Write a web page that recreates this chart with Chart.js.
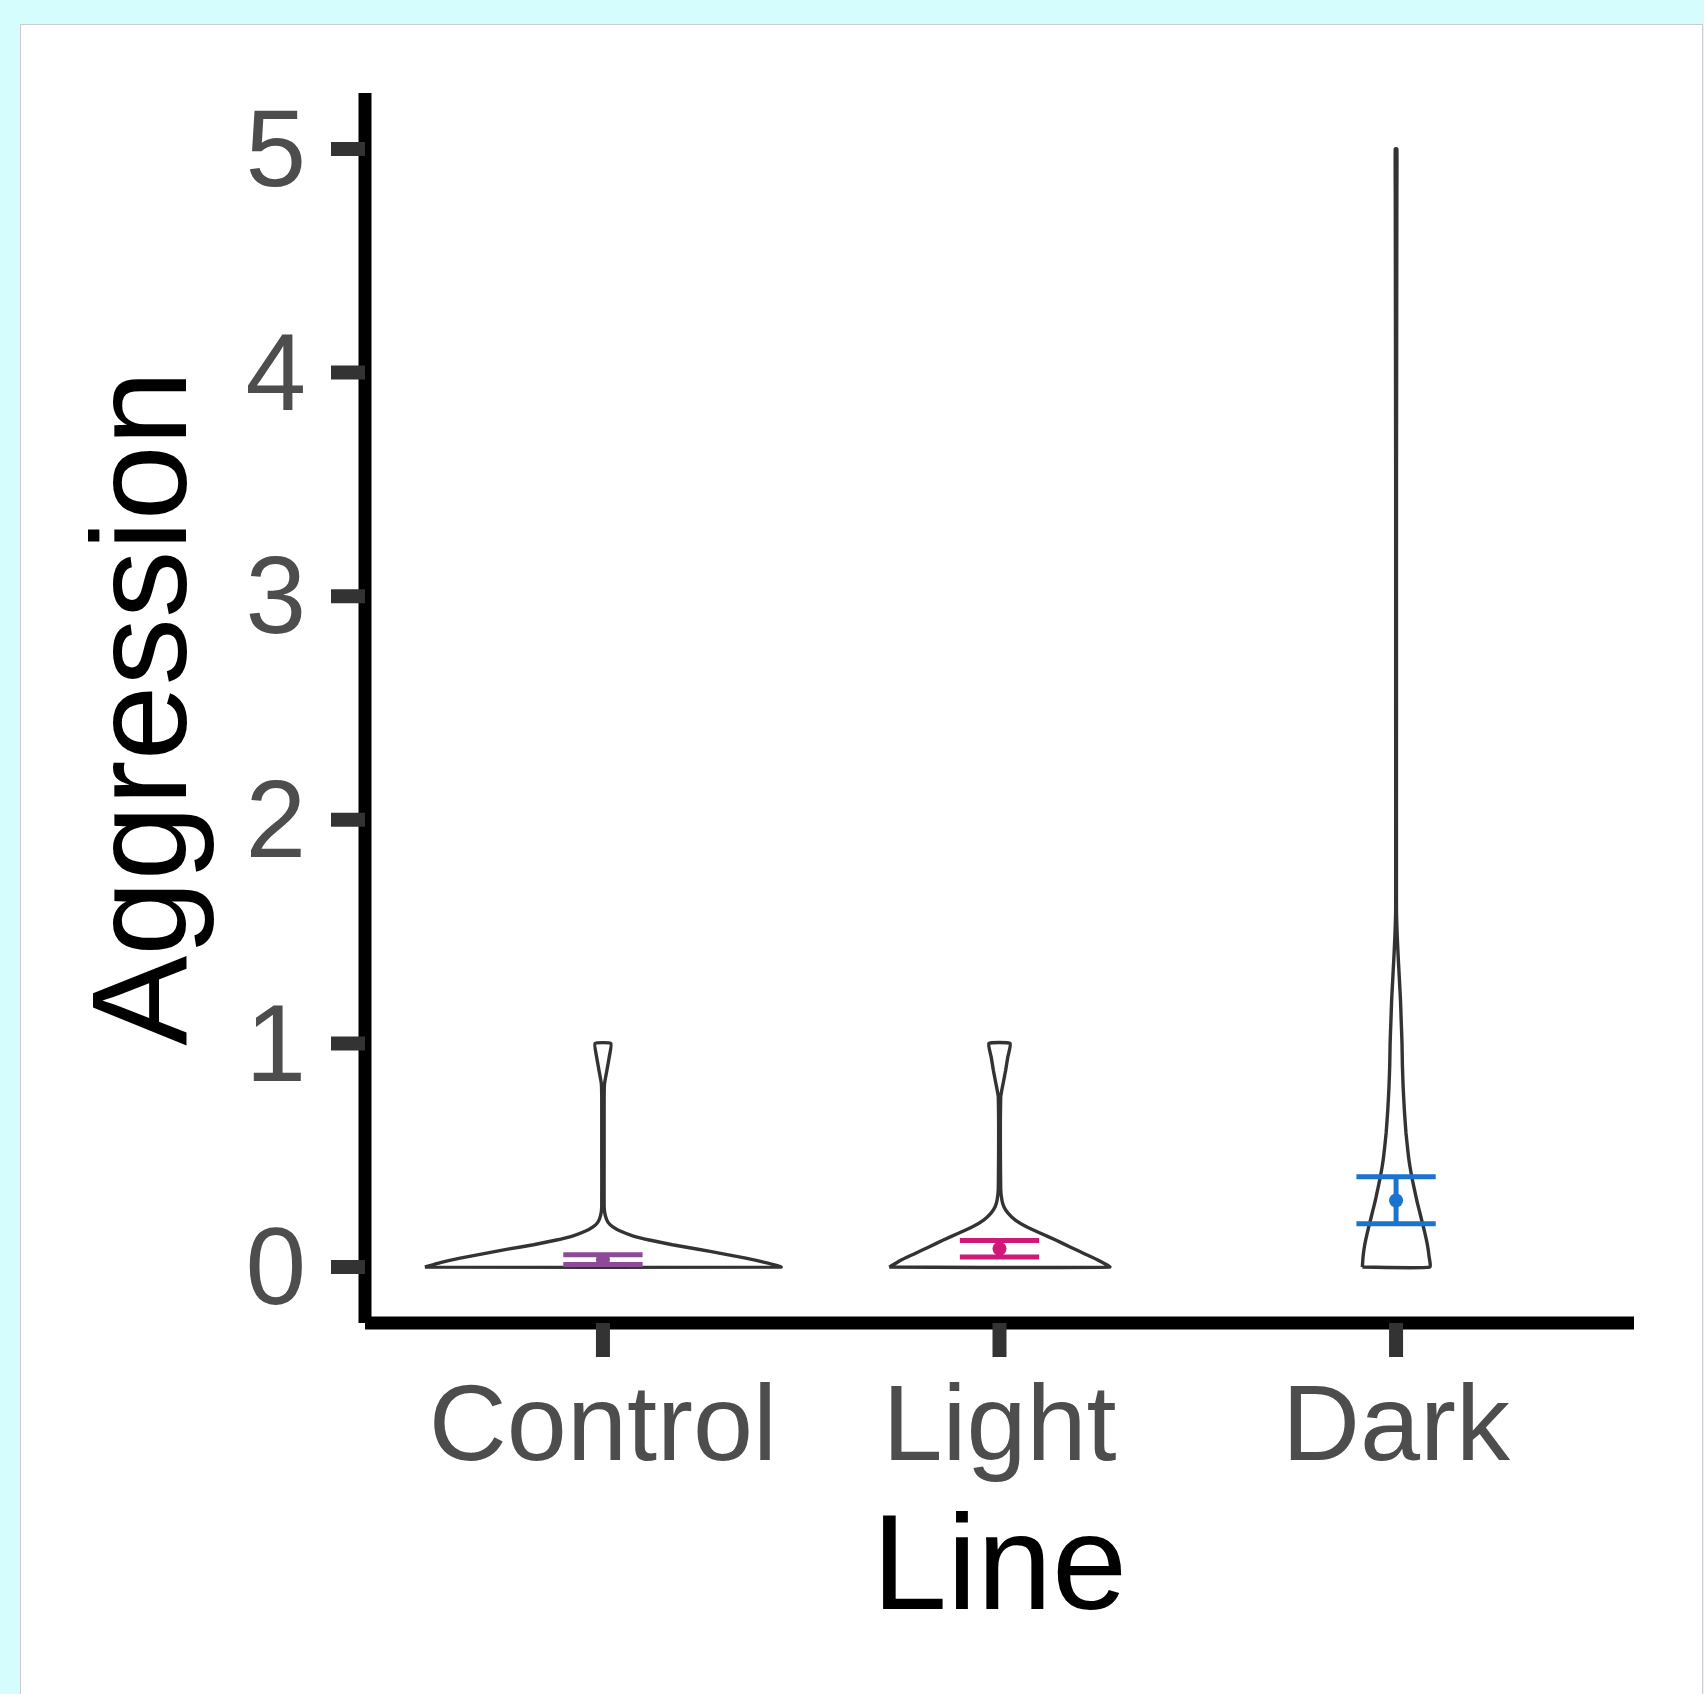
<!DOCTYPE html>
<html>
<head>
<meta charset="utf-8">
<script src="https://cdn.jsdelivr.net/npm/chart.js@4.4.1/dist/chart.umd.min.js"></script>
<style>
  html, body { margin: 0; padding: 0; overflow: hidden; }
  body { background: #d5fdfe; width: 1704px; height: 1694px; position: relative; }
  #panel { position: absolute; left: 20px; top: 24px; width: 1681px; height: 1700px;
           background: #fff; border: 1px solid #cccccc; }
  #chart { position: absolute; left: 0; top: 0; }
</style>
</head>
<body>
<div id="panel"></div>
<canvas id="chart" width="1704" height="1694"></canvas>
<script>
// groups and axis ticks
const categories = ['Control', 'Light', 'Dark'];
const xTicks = [1, 2, 3];
const yTicks = [0, 1, 2, 3, 4, 5];

// violin outlines: aggression level and half width (in category units)
const controlLevels = [0, 0.02, 0.04, 0.06, 0.08, 0.10, 0.12, 0.14, 0.16, 0.18, 0.20, 0.23, 0.27, 0.5, 0.75, 0.82, 0.88, 0.94, 1.0];
const controlHalfWidths = [0.449, 0.41, 0.36, 0.30, 0.24, 0.175, 0.12, 0.075, 0.045, 0.025, 0.013, 0.006, 0.003, 0.003, 0.003, 0.004, 0.01, 0.016, 0.02];

const lightLevels = [0, 0.03, 0.06, 0.09, 0.12, 0.15, 0.18, 0.21, 0.24, 0.27, 0.30, 0.35, 0.76, 0.82, 0.88, 0.94, 1.0];
const lightHalfWidths = [0.278, 0.25, 0.214, 0.178, 0.143, 0.105, 0.068, 0.040, 0.022, 0.011, 0.006, 0.003, 0.003, 0.009, 0.0155, 0.021, 0.027];

const darkLevels = [0, 0.05, 0.1, 0.15, 0.2, 0.25, 0.3, 0.35, 0.4, 0.45, 0.5, 0.6, 0.7, 0.8, 0.9, 1.0, 1.1, 1.2, 1.3, 1.4, 1.5, 1.6, 2.5, 3.5, 4.8, 5.0];
const darkHalfWidths = [0.085, 0.083, 0.079, 0.073, 0.066, 0.059, 0.052, 0.046, 0.040, 0.035, 0.031, 0.025, 0.021, 0.018, 0.016, 0.015, 0.013, 0.011, 0.008, 0.005, 0.0025, 0.001, 0.001, 0.001, 0.002, 0.002];

// mean and error bar limits per group
const means = [0.033, 0.082, 0.298];
const lowers = [0.012, 0.045, 0.194];
const uppers = [0.055, 0.119, 0.404];

const groupColors = ['#8e4a99', '#d0177a', '#1a73cf'];
const FONT = "'Liberation Sans', Arial, Helvetica, sans-serif";

function violinPoints(center, levels, halfWidths) {
    const pts = [];
    for (let i = 0; i < levels.length; i++) pts.push({ x: center - halfWidths[i], y: levels[i] });
    for (let i = levels.length - 1; i >= 0; i--) pts.push({ x: center + halfWidths[i], y: levels[i] });
    pts.push(pts[0]);
    return pts;
}

const violins = [
    [controlLevels, controlHalfWidths],
    [lightLevels, lightHalfWidths],
    [darkLevels, darkHalfWidths]
];

const datasets = [];
violins.forEach(function (v, i) {
    datasets.push({
        data: violinPoints(xTicks[i], v[0], v[1]),
        showLine: true,
        borderColor: '#333333',
        borderWidth: 3.4,
        borderJoinStyle: 'round',
        backgroundColor: 'transparent',
        pointRadius: 0,
        tension: 0.15,
        fill: false,
        order: 2
    });
});

const barHalf = 0.1;
categories.forEach(function (c, i) {
    const x = xTicks[i];
    const seg = function (pts) {
        return { data: pts, showLine: true, borderColor: groupColors[i], borderWidth: 5,
                 borderCapStyle: 'butt', pointRadius: 0, tension: 0, order: 1 };
    };
    datasets.push(seg([{ x: x - barHalf, y: lowers[i] }, { x: x + barHalf, y: lowers[i] }]));
    datasets.push(seg([{ x: x - barHalf, y: uppers[i] }, { x: x + barHalf, y: uppers[i] }]));
    datasets.push(seg([{ x: x, y: lowers[i] }, { x: x, y: uppers[i] }]));
    datasets.push({
        data: [{ x: x, y: means[i] }],
        showLine: false,
        pointRadius: 7,
        pointBorderWidth: 0,
        pointBackgroundColor: groupColors[i],
        order: 0
    });
});

// ggplot style axis lines and ticks
const axisPlugin = {
    id: 'ggAxes',
    afterDatasetsDraw(chart) {
        const ctx = chart.ctx;
        const a = chart.chartArea;
        const xs = chart.scales.x, ys = chart.scales.y;
        const line = function (x1, y1, x2, y2) {
            ctx.beginPath(); ctx.moveTo(x1, y1); ctx.lineTo(x2, y2); ctx.stroke();
        };
        ctx.save();
        ctx.lineCap = 'butt';
        ctx.strokeStyle = '#000000';
        ctx.lineWidth = 13;
        line(a.left, a.top, a.left, a.bottom);
        line(a.left, a.bottom, a.right, a.bottom);
        ctx.strokeStyle = '#333333';
        ctx.lineWidth = 14;
        yTicks.forEach(function (v) {
            const py = ys.getPixelForValue(v);
            line(a.left - 34, py, a.left, py);
        });
        xTicks.forEach(function (v) {
            const px = xs.getPixelForValue(v);
            line(px, a.bottom, px, a.bottom + 34);
        });
        ctx.restore();
    }
};

new Chart(document.getElementById('chart'), {
    type: 'scatter',
    data: { datasets: datasets },
    options: {
        responsive: false,
        animation: false,
        events: [],
        devicePixelRatio: 1,
        layout: { padding: { top: 93, right: 70, bottom: 0, left: 0 } },
        plugins: { legend: { display: false }, tooltip: { enabled: false } },
        scales: {
            x: {
                type: 'linear',
                min: 0.4,
                max: 3.6,
                bounds: 'data',
                afterBuildTicks: function (scale) { scale.ticks = xTicks.map(function (v) { return { value: v }; }); },
                afterFit: function (scale) {
                    scale.height = 371;
                    scale.paddingLeft = 0; scale.paddingRight = 0;
                },
                grid: { display: false, drawTicks: false },
                border: { display: false },
                ticks: {
                    autoSkip: false, maxRotation: 0, minRotation: 0,
                    padding: 53,
                    color: '#4d4d4d',
                    font: { family: FONT, size: 108, lineHeight: 1 },
                    callback: function (value, index) { return categories[index]; }
                },
                title: {
                    display: true, text: 'Line', color: '#000000',
                    font: { family: FONT, size: 135, lineHeight: 1 },
                    padding: { top: 0, bottom: 55 }
                }
            },
            y: {
                type: 'linear',
                min: -0.25,
                max: 5.25,
                bounds: 'data',
                afterBuildTicks: function (scale) { scale.ticks = yTicks.map(function (v) { return { value: v }; }); },
                afterFit: function (scale) {
                    scale.width = 365;
                    scale.paddingTop = 0; scale.paddingBottom = 0;
                },
                grid: { display: false, drawTicks: true, tickLength: 59 },
                border: { display: false },
                ticks: {
                    padding: 0,
                    labelOffset: 7,
                    color: '#4d4d4d',
                    font: { family: FONT, size: 109, lineHeight: 1 },
                    callback: function (value) { return String(value); }
                },
                title: {
                    display: true, text: 'Aggression', color: '#000000',
                    font: { family: FONT, size: 135, lineHeight: 1 },
                    padding: { top: 81, bottom: 0 }
                }
            }
        }
    },
    plugins: [axisPlugin]
});
</script>
</body>
</html>
